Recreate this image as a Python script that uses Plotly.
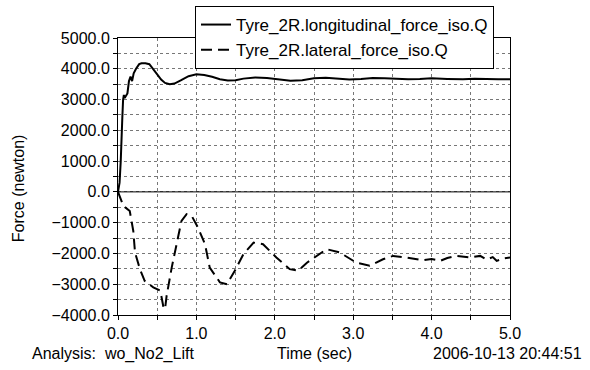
import plotly.graph_objects as go

t_long = [0.0, 0.02, 0.035, 0.045, 0.055, 0.065, 0.075, 0.085, 0.1, 0.12, 0.14, 0.16, 0.18, 0.2, 0.23,
          0.27, 0.3, 0.35, 0.4, 0.45, 0.5, 0.55, 0.6, 0.66, 0.72, 0.8, 0.9, 1.0, 1.1, 1.2, 1.3, 1.4,
          1.5, 1.6, 1.75, 1.9, 2.05, 2.2, 2.35, 2.5, 2.65, 2.8, 2.95, 3.1, 3.25, 3.4, 3.55, 3.7,
          3.85, 4.0, 4.2, 4.4, 4.55, 4.7, 4.85, 5.0]
f_long = [0, 300, 1000, 2000, 2400, 3000, 3150, 3050, 3100, 3200, 3600, 3750, 3600, 3850, 4000,
          4150, 4180, 4180, 4150, 4000, 3820, 3650, 3540, 3500, 3520, 3620, 3760, 3820, 3800, 3740,
          3660, 3620, 3630, 3680, 3720, 3700, 3650, 3610, 3630, 3690, 3710, 3680, 3650, 3670, 3700,
          3690, 3670, 3660, 3670, 3690, 3670, 3660, 3680, 3660, 3660, 3660]

t_lat = [0.0, 0.068, 0.15, 0.195, 0.217, 0.28, 0.34, 0.45, 0.54, 0.58, 0.6, 0.62, 0.685, 0.75,
         0.81, 0.875, 0.94, 1.02, 1.11, 1.17, 1.3, 1.39, 1.49, 1.6, 1.73, 1.85, 2.02, 2.19, 2.3,
         2.41, 2.66, 2.83, 3.04, 3.21, 3.38, 3.51, 3.68, 3.89, 4.0, 4.11, 4.2, 4.32, 4.49, 4.62,
         4.7, 4.78, 4.83, 4.92, 5.0]
f_lat = [0, -455, -620, -1270, -1970, -2510, -2890, -3100, -3210, -3750, -3810, -3380, -2460, -1650,
         -940, -725, -780, -1160, -1700, -2460, -2940, -3000, -2560, -2020, -1650, -1700, -2130,
         -2510, -2560, -2300, -1860, -1970, -2300, -2400, -2190, -2080, -2130, -2220, -2180, -2240,
         -2150, -2080, -2130, -2080, -2200, -2120, -2240, -2160, -2130]

x_ticks = [0.0, 1.0, 2.0, 3.0, 4.0, 5.0]
y_ticks = [-4000, -3000, -2000, -1000, 0, 1000, 2000, 3000, 4000, 5000]

FONT = "Liberation Sans, Arial, sans-serif"
FS = 16

fig = go.Figure()
fig.add_trace(go.Scatter(x=t_long, y=f_long, mode="lines", name="Tyre_2R.longitudinal_force_iso.Q",
                         line=dict(color="black", width=2)))
fig.add_trace(go.Scatter(x=t_lat, y=f_lat, mode="lines", name="Tyre_2R.lateral_force_iso.Q",
                         line=dict(color="black", width=2, dash="11px,6px")))

axis_common = dict(showline=True, linecolor="black", linewidth=1, mirror=True,
                   showgrid=True, gridcolor="#777777", griddash="dot", gridwidth=1,
                   ticks="outside", ticklen=4, tickcolor="black", zeroline=False,
                   tickfont=dict(family=FONT, size=FS, color="black"))

fig.update_xaxes(range=[0, 5], tickvals=x_ticks, tickformat=".1f",
                 minor=dict(dtick=0.5, showgrid=True, gridcolor="#777777", griddash="dot",
                            ticks="outside", ticklen=4, tickcolor="black"),
                 **axis_common)
fig.update_yaxes(range=[-4000, 5000], tickvals=y_ticks, tickformat=".1f",
                 minor=dict(dtick=500, showgrid=True, gridcolor="#777777", griddash="dot",
                            ticks="outside", ticklen=4, tickcolor="black"),
                 **axis_common)

# zero line solid
fig.add_hline(y=0, line=dict(color="black", width=1))

fig.update_layout(
    width=590, height=370,
    margin=dict(l=118, r=80, t=38, b=55, autoexpand=False),
    paper_bgcolor="white", plot_bgcolor="white",
    font=dict(family=FONT, size=FS, color="black"),
    legend=dict(xref="container", yref="container", x=195 / 590, y=1 - 6 / 370,
                xanchor="left", yanchor="top",
                bgcolor="white", bordercolor="black", borderwidth=1,
                font=dict(family=FONT, size=17, color="black"),
                tracegroupgap=0, itemwidth=30),
    annotations=[
        dict(text="Force (newton)", xref="paper", yref="paper", x=-0.255, y=0.458,
             xanchor="center", yanchor="middle", textangle=-90, showarrow=False,
             font=dict(family=FONT, size=FS)),
        dict(text="Analysis:  wo_No2_Lift", xref="paper", yref="paper", x=-0.225, y=-0.14,
             xanchor="left", yanchor="middle", showarrow=False, font=dict(family=FONT, size=FS)),
        dict(text="Time (sec)", xref="paper", yref="paper", x=0.5, y=-0.14,
             xanchor="center", yanchor="middle", showarrow=False, font=dict(family=FONT, size=FS)),
        dict(text="2006-10-13 20:44:51", xref="paper", yref="paper", x=1.19, y=-0.14,
             xanchor="right", yanchor="middle", showarrow=False, font=dict(family=FONT, size=FS)),
    ],
)

fig.write_html("out.html")
